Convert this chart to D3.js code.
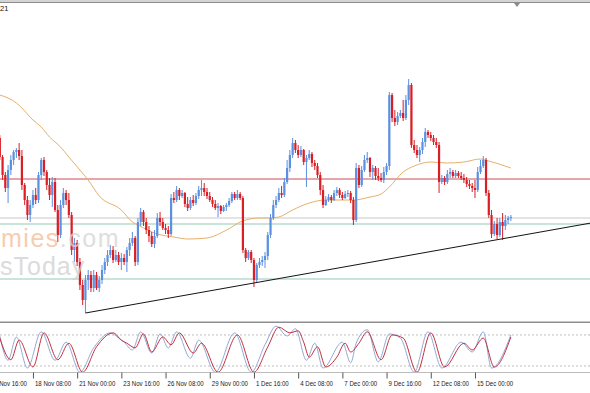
<!DOCTYPE html>
<html>
<head>
<meta charset="utf-8">
<style>
body { margin: 0; background: #fff; }
svg { display: block; background: #fff; }
</style>
</head>
<body>
<svg width="590" height="393"></svg>
<script src="https://cdn.jsdelivr.net/npm/d3@7/dist/d3.min.js"></script>
<script>
// H4 candles, one entry per bar
var opens = [
  1.0632,1.0613,1.0595,1.0582,1.0600,1.0610,1.0618,1.0620,1.0614,1.0585,
  1.0570,1.0555,1.0565,1.0575,1.0570,1.0595,1.0610,1.0598,1.0585,1.0575,
  1.0588,1.0560,1.0535,1.0565,1.0577,1.0570,1.0555,1.0520,1.0527,1.0508,
  1.0485,1.0470,1.0490,1.0495,1.0482,1.0495,1.0482,1.0490,1.0500,1.0508,
  1.0515,1.0520,1.0510,1.0515,1.0508,1.0512,1.0508,1.0520,1.0527,1.0532,
  1.0508,1.0548,1.0558,1.0548,1.0540,1.0534,1.0526,1.0534,1.0552,1.0548,
  1.0542,1.0540,1.0536,1.0572,1.0570,1.0580,1.0574,1.0577,1.0566,1.0562,
  1.0570,1.0567,1.0574,1.0580,1.0582,1.0578,1.0574,1.0570,1.0566,1.0562,
  1.0564,1.0559,1.0563,1.0565,1.0569,1.0576,1.0572,1.0576,1.0572,1.0520,
  1.0512,1.0518,1.0510,1.0490,1.0505,1.0508,1.0510,1.0514,1.0535,1.0552,
  1.0565,1.0570,1.0577,1.0575,1.0588,1.0602,1.0615,1.0627,1.0620,1.0615,
  1.0620,1.0608,1.0612,1.0616,1.0607,1.0604,1.0595,1.0580,1.0565,1.0570,
  1.0573,1.0570,1.0577,1.0580,1.0575,1.0572,1.0576,1.0577,1.0570,1.0550,
  1.0602,1.0585,1.0600,1.0610,1.0612,1.0598,1.0602,1.0594,1.0592,1.0590,
  1.0598,1.0604,1.0675,1.0652,1.0648,1.0654,1.0657,1.0652,1.0670,1.0685,
  1.0625,1.0620,1.0615,1.0620,1.0628,1.0638,1.0635,1.0632,1.0628,1.0625,
  1.0588,1.0592,1.0588,1.0596,1.0598,1.0594,1.0597,1.0594,1.0592,1.0590,
  1.0586,1.0584,1.0582,1.0580,1.0598,1.0604,1.0610,1.0577,1.0555,1.0536,
  1.0546,1.0535,1.0548,1.0544,1.0550,1.0552
];
var highs = [
  1.0635,1.0615,1.0598,1.0605,1.0615,1.0620,1.0622,1.0627,1.0620,1.0587,
  1.0574,1.0570,1.0580,1.0582,1.0598,1.0612,1.0613,1.0600,1.0592,1.0593,
  1.0592,1.0565,1.0570,1.0582,1.0580,1.0577,1.0558,1.0532,1.0530,1.0512,
  1.0490,1.0495,1.0500,1.0499,1.0500,1.0498,1.0494,1.0505,1.0512,1.0520,
  1.0525,1.0524,1.0520,1.0518,1.0517,1.0516,1.0523,1.0532,1.0538,1.0534,
  1.0552,1.0562,1.0560,1.0552,1.0544,1.0538,1.0540,1.0557,1.0558,1.0552,
  1.0546,1.0544,1.0576,1.0578,1.0584,1.0582,1.0580,1.0578,1.0573,1.0573,
  1.0575,1.0577,1.0584,1.0590,1.0587,1.0582,1.0578,1.0573,1.0570,1.0567,
  1.0565,1.0565,1.0567,1.0572,1.0578,1.0578,1.0580,1.0578,1.0574,1.0522,
  1.0520,1.0520,1.0512,1.0507,1.0512,1.0514,1.0518,1.0538,1.0556,1.0570,
  1.0574,1.0582,1.0584,1.0592,1.0610,1.0620,1.0632,1.0630,1.0625,1.0624,
  1.0621,1.0615,1.0620,1.0618,1.0610,1.0607,1.0598,1.0585,1.0574,1.0576,
  1.0575,1.0580,1.0583,1.0582,1.0578,1.0579,1.0580,1.0579,1.0573,1.0607,
  1.0605,1.0604,1.0615,1.0618,1.0613,1.0605,1.0604,1.0602,1.0597,1.0603,
  1.0607,1.0678,1.0677,1.0660,1.0658,1.0660,1.0670,1.0675,1.0691,1.0687,
  1.0630,1.0625,1.0623,1.0632,1.0642,1.0640,1.0638,1.0635,1.0632,1.0628,
  1.0595,1.0594,1.0600,1.0602,1.0600,1.0600,1.0599,1.0598,1.0596,1.0593,
  1.0590,1.0587,1.0590,1.0603,1.0610,1.0614,1.0612,1.0580,1.0560,1.0549,
  1.0552,1.0552,1.0557,1.0555,1.0554,1.0555
];
var lows = [
  1.0610,1.0590,1.0578,1.0567,1.0595,1.0605,1.0612,1.0610,1.0580,1.0565,
  1.0550,1.0548,1.0562,1.0566,1.0567,1.0590,1.0594,1.0580,1.0570,1.0563,
  1.0558,1.0528,1.0532,1.0562,1.0565,1.0552,1.0515,1.0508,1.0504,1.0480,
  1.0465,1.0457,1.0480,1.0478,1.0478,1.0480,1.0478,1.0486,1.0496,1.0504,
  1.0512,1.0507,1.0508,1.0505,1.0500,1.0505,1.0498,1.0514,1.0524,1.0504,
  1.0505,1.0544,1.0544,1.0536,1.0528,1.0523,1.0522,1.0532,1.0544,1.0540,
  1.0536,1.0532,1.0534,1.0567,1.0568,1.0570,1.0572,1.0563,1.0559,1.0560,
  1.0564,1.0565,1.0571,1.0574,1.0574,1.0571,1.0568,1.0563,1.0560,1.0553,
  1.0556,1.0558,1.0559,1.0563,1.0567,1.0570,1.0570,1.0570,1.0517,1.0508,
  1.0510,1.0507,1.0483,1.0487,1.0502,1.0504,1.0502,1.0510,1.0532,1.0550,
  1.0562,1.0568,1.0572,1.0573,1.0586,1.0598,1.0612,1.0617,1.0612,1.0613,
  1.0605,1.0583,1.0610,1.0603,1.0600,1.0592,1.0575,1.0562,1.0564,1.0568,
  1.0567,1.0569,1.0574,1.0572,1.0570,1.0571,1.0573,1.0567,1.0545,1.0548,
  1.0582,1.0583,1.0598,1.0607,1.0593,1.0590,1.0590,1.0589,1.0588,1.0587,
  1.0595,1.0600,1.0648,1.0644,1.0645,1.0652,1.0649,1.0650,1.0665,1.0622,
  1.0617,1.0612,1.0608,1.0616,1.0623,1.0632,1.0629,1.0625,1.0622,1.0577,
  1.0586,1.0585,1.0586,1.0592,1.0592,1.0592,1.0592,1.0590,1.0587,1.0583,
  1.0581,1.0578,1.0572,1.0578,1.0596,1.0602,1.0574,1.0552,1.0532,1.0534,
  1.0531,1.0533,1.0530,1.0540,1.0546,1.0549
];
var closes = [
  1.0613,1.0595,1.0582,1.0600,1.0610,1.0618,1.0620,1.0614,1.0585,1.0570,
  1.0555,1.0565,1.0575,1.0570,1.0595,1.0610,1.0598,1.0585,1.0575,1.0588,
  1.0560,1.0535,1.0565,1.0577,1.0570,1.0555,1.0520,1.0527,1.0508,1.0485,
  1.0470,1.0490,1.0495,1.0482,1.0495,1.0482,1.0490,1.0500,1.0508,1.0515,
  1.0520,1.0510,1.0515,1.0508,1.0512,1.0508,1.0520,1.0527,1.0532,1.0508,
  1.0548,1.0558,1.0548,1.0540,1.0534,1.0526,1.0534,1.0552,1.0548,1.0542,
  1.0540,1.0536,1.0572,1.0570,1.0580,1.0574,1.0577,1.0566,1.0562,1.0570,
  1.0567,1.0574,1.0580,1.0582,1.0578,1.0574,1.0570,1.0566,1.0562,1.0564,
  1.0559,1.0563,1.0565,1.0569,1.0576,1.0572,1.0576,1.0572,1.0520,1.0512,
  1.0518,1.0510,1.0490,1.0505,1.0508,1.0510,1.0514,1.0535,1.0552,1.0565,
  1.0570,1.0577,1.0575,1.0588,1.0602,1.0615,1.0627,1.0620,1.0615,1.0620,
  1.0608,1.0612,1.0616,1.0607,1.0604,1.0595,1.0580,1.0565,1.0570,1.0573,
  1.0570,1.0577,1.0580,1.0575,1.0572,1.0576,1.0577,1.0570,1.0550,1.0602,
  1.0585,1.0600,1.0610,1.0612,1.0598,1.0602,1.0594,1.0592,1.0590,1.0598,
  1.0604,1.0675,1.0652,1.0648,1.0654,1.0657,1.0652,1.0670,1.0685,1.0625,
  1.0620,1.0615,1.0620,1.0628,1.0638,1.0635,1.0632,1.0628,1.0625,1.0588,
  1.0592,1.0588,1.0596,1.0598,1.0594,1.0597,1.0594,1.0592,1.0590,1.0586,
  1.0584,1.0582,1.0580,1.0598,1.0604,1.0610,1.0577,1.0555,1.0536,1.0546,
  1.0535,1.0548,1.0544,1.0550,1.0552,1.0553
];

// moving average, read at a few bars
var maBars = [0,6,8,12,15,18,22,25,29,32,36,44,48,50,57,63,68,75,80,84,87,94,98,101,106,112,118,128,134,138,141,146,150,156,162,168,174,177,185];
var maValues = [1.0675,1.0667,1.0662,1.0650,1.0643,1.0633,1.0623,1.0613,1.0600,1.0590,
  1.0574,1.0560,1.0548,1.0545,1.0536,1.0533,1.0531,1.0532,1.0537,1.0543,
  1.0548,1.0552,1.0552,1.0553,1.0560,1.0567,1.0570,1.0570,1.0573,1.0576,
  1.0583,1.0598,1.0604,1.0608,1.0607,1.0608,1.0611,1.0609,1.0602];

// horizontal levels and trendline
var resistance = [1.0591];
var supports = [1.0546, 1.0491];
var pivot = [1.0552];
var trendBars = [31, 214];
var trendPrices = [1.0457, 1.0547];

// stochastic, turning points
var stochBars = [0,3,6,10,15,20,24,29,34,40,43,45,48,51,55,58,61,64,69,72,78,85,91,96,100,104,107,111,114,117,124,127,129,133,137,141,145,150,155,160,167,171,175,178,185];
var stochMain = [78,31,76,16,86,31,66,8,55,84,74,66,51,86,45,82,55,86,35,70,8,84,8,61,97,78,92,31,64,16,66,26,64,90,28,82,74,8,86,16,66,47,86,16,80];
var signalBars = [0,4,7,12,16,21,25,30,35,41,44,46,49,52,55,59,62,65,70,73,79,86,92,97,101,105,108,110,112,115,118,122,125,127,130,133,138,142,146,151,156,161,168,171,175,179,185];
var stochSignal = [74,32,70,18,84,32,64,8,57,84,70,64,55,82,47,76,61,84,45,64,8,80,8,57,95,84,88,66,37,57,18,37,64,47,64,86,32,80,74,8,84,18,64,51,74,18,76];
var stochLevels = [80, 20];

var tickBars = [-4, 12, 28, 44, 60, 76, 92, 108, 124, 140, 156, 172];
var tickLabels = ["15 Nov 16:00", "18 Nov 08:00", "21 Nov 00:00", "23 Nov 16:00", "26 Nov 08:00", "29 Nov 00:00",
                  "1 Dec 16:00", "4 Dec 08:00", "7 Dec 00:00", "9 Dec 16:00", "12 Dec 08:00", "15 Dec 00:00"];

var svg = d3.select("svg"),
    width = +svg.attr("width"),
    height = +svg.attr("height"),
    mainTop = 4,
    mainBottom = 321,
    subTop = 323,
    subBottom = 372;

var x = d3.scaleLinear().domain([0, 214]).range([-0.2, 591]);
var y = d3.scaleLinear().domain([1.0450, 1.0766]).range([320, 4]);
var ys = d3.scaleLinear().domain([0, 100]).range([376.3, 324.6]);

var bull = "#5b8fe0", bear = "#d91e26";

var candles = closes.map(function(c, i) {
  return {i: i, open: opens[i], high: highs[i], low: lows[i], close: c};
});

var defs = svg.append("defs");
defs.append("clipPath").attr("id", "clip-main").append("rect")
    .attr("x", 0).attr("y", mainTop).attr("width", width).attr("height", mainBottom - mainTop);
defs.append("clipPath").attr("id", "clip-sub").append("rect")
    .attr("x", 0).attr("y", subTop).attr("width", width).attr("height", subBottom - subTop);

// top strip
svg.append("rect").attr("x", 0).attr("y", 0).attr("width", width).attr("height", 2).style("fill", "#d4d4d4");
svg.append("line").attr("x1", 0).attr("x2", width).attr("y1", 2.5).attr("y2", 2.5)
    .style("stroke", "#8c8c8c").style("stroke-width", 1.2);
svg.append("path").attr("d", "M514,3L520,3L517,7Z").style("fill", "#8a8a8a");
svg.append("text").attr("x", 0).attr("y", 11)
    .style("font-family", "Liberation Sans, Arial, sans-serif").style("font-size", "7.5px").style("fill", "#111")
    .text("21");

var main = svg.append("g").attr("clip-path", "url(#clip-main)");

function hline(g, price, color) {
  g.append("line")
      .attr("x1", 0).attr("x2", width)
      .attr("y1", y(price)).attr("y2", y(price))
      .style("stroke", color).style("stroke-width", 1);
}
pivot.forEach(function(p) { hline(main, p, "#c9c9c9"); });
supports.forEach(function(p) { hline(main, p, "#93cbb4"); });
resistance.forEach(function(p) { hline(main, p, "#cc4f55"); });

// moving average
var maLine = d3.line()
    .x(function(d) { return x(d[0]); })
    .y(function(d) { return y(d[1]); })
    .curve(d3.curveMonotoneX);
main.append("path")
    .datum(d3.zip(maBars, maValues))
    .attr("d", maLine)
    .style("fill", "none").style("stroke", "#e6b06a").style("stroke-width", 1);

// candles
var bars = main.append("g").selectAll("g")
  .data(candles)
  .enter().append("g");

bars.append("line")
    .attr("x1", function(d) { return x(d.i); })
    .attr("x2", function(d) { return x(d.i); })
    .attr("y1", function(d) { return y(d.high); })
    .attr("y2", function(d) { return y(d.low); })
    .style("stroke", function(d) { return d.close >= d.open ? bull : bear; })
    .style("stroke-width", 1);

bars.append("rect")
    .attr("x", function(d) { return x(d.i) - 1.1; })
    .attr("width", 2.2)
    .attr("y", function(d) { return y(Math.max(d.open, d.close)); })
    .attr("height", function(d) { return Math.max(1, Math.abs(y(d.open) - y(d.close))); })
    .style("fill", function(d) { return d.close >= d.open ? bull : bear; });

// trendline
main.append("line")
    .attr("x1", x(trendBars[0])).attr("y1", y(trendPrices[0]))
    .attr("x2", x(trendBars[1])).attr("y2", y(trendPrices[1]))
    .style("stroke", "#141414").style("stroke-width", 1);

// watermark (only the part that shows at the left edge)
var wm = svg.append("text")
    .attr("x", 1).attr("y", 247)
    .style("font-family", "Liberation Sans, Arial, sans-serif")
    .style("font-size", "25px")
    .style("opacity", 0.78);
wm.append("tspan").style("fill", "#f3bf9c").style("letter-spacing", "1.5px").text("mies");
wm.append("tspan").style("fill", "#d6d6d6").style("letter-spacing", "1.5px").text(".com");
wm.append("tspan").attr("x", 0).attr("dy", 28).style("fill", "#d2d2d2").style("letter-spacing", "1px").text("sToday");

// panel separator
svg.append("line").attr("x1", 0).attr("x2", width).attr("y1", 322.3).attr("y2", 322.3)
    .style("stroke", "#8e8e8e").style("stroke-width", 1.6);
svg.append("line").attr("x1", 0).attr("x2", width).attr("y1", 372.5).attr("y2", 372.5)
    .style("stroke", "#bdbdbd").style("stroke-width", 1);

// stochastic panel
var sub = svg.append("g").attr("clip-path", "url(#clip-sub)");
stochLevels.forEach(function(v) {
  sub.append("line")
      .attr("x1", 0).attr("x2", width)
      .attr("y1", ys(v)).attr("y2", ys(v))
      .style("stroke", "#bdbdbd").style("stroke-dasharray", "2,2").style("stroke-width", 1);
});

var stochLine = d3.line()
    .x(function(d) { return x(d[0]); })
    .y(function(d) { return ys(d[1]); })
    .curve(d3.curveMonotoneX);

sub.append("path")
    .datum(d3.zip(stochBars, stochMain))
    .attr("d", stochLine)
    .style("fill", "none").style("stroke", "#93a9d4").style("stroke-width", 1);
sub.append("path")
    .datum(d3.zip(signalBars, stochSignal))
    .attr("d", stochLine)
    .style("fill", "none").style("stroke", "#c3303e").style("stroke-width", 1);

// time axis
var axis = svg.append("g")
    .attr("transform", "translate(0," + 372.5 + ")")
    .call(d3.axisBottom(x)
        .tickValues(tickBars)
        .tickFormat(function(d, i) { return tickLabels[i]; })
        .tickSize(6));
axis.select(".domain").remove();
axis.selectAll(".tick line").style("stroke", "#555");
axis.selectAll(".tick text")
    .attr("text-anchor", "start")
    .attr("x", 1.5)
    .attr("y", 8)
    .style("font-family", "Liberation Sans, Arial, sans-serif")
    .style("font-size", "7.8px")
    .style("fill", "#1a1a1a")
    .each(function() {
      // the platform font is condensed; squeeze the labels to fit between ticks
      var w = this.getComputedTextLength();
      d3.select(this).attr("textLength", w * 0.78).attr("lengthAdjust", "spacingAndGlyphs");
    });
</script>
</body>
</html>
